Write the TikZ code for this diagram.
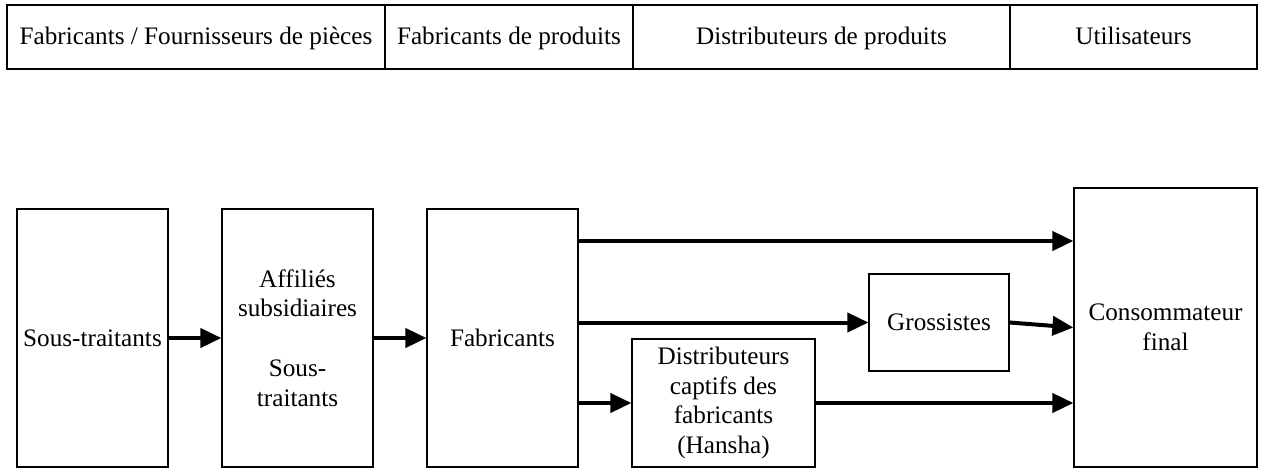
\documentclass[tikz,border=0pt]{standalone}
\usepackage{fontspec}
\setmainfont{Liberation Serif}
\usetikzlibrary{arrows.meta,calc}
\tikzset{
  box/.style={draw=black, line width=1.2pt, fill=white, inner sep=0pt, align=center,
    font=\fontsize{25.2pt}{29.8pt}\selectfont},
  hcell/.style={box, minimum height=64pt, text height=21pt, text depth=5pt},
  arr/.style={line width=4pt, -{Triangle[length=21pt,width=19pt]}}
}
\begin{document}
\begin{tikzpicture}[x=1pt,y=-1pt]
\useasboundingbox (0,0) rectangle (1264,468);
% header
\node[hcell, minimum width=378pt] (h1) at (196,37) {Fabricants / Fournisseurs de pièces};
\node[hcell, minimum width=248pt] (h2) at (509,37) {Fabricants de produits};
\node[hcell, minimum width=377pt] (h3) at (821.5,37) {Distributeurs de produits};
\node[hcell, minimum width=247pt] (h4) at (1133.5,37) {Utilisateurs};
% boxes
\node[box, minimum width=151pt, minimum height=258pt] (st) at (92.5,338) {Sous-traitants};
\node[box, minimum width=151pt, minimum height=258pt] (aff) at (297.5,338) {Affiliés\\subsidiaires\\[29.8pt]Sous-\\traitants};
\node[box, minimum width=151pt, minimum height=258pt] (fab) at (502.5,338) {Fabricants};
\node[box, minimum width=183pt, minimum height=128pt] (capt) at (723.5,403) {Distributeurs\\captifs des\\fabricants\\(Hansha)};
\node[box, minimum width=140pt, minimum height=97pt] (gros) at (939,322.5) {Grossistes};
\node[box, minimum width=183pt, minimum height=279pt] (cons) at (1165.5,327.5) {Consommateur\\final};
% connectors
\draw[arr] (st) -- (aff);
\draw[arr] (aff) -- (fab);
\draw[arr] ([yshift=97pt]fab.east) -- ([yshift=97pt]fab.east -| cons.west);
\draw[arr] (fab.east |- gros.west) -- (gros.west);
\draw[arr] (gros.east) -- (cons.west);
\draw[arr] (fab.east |- capt.west) -- (capt.west);
\draw[arr] (capt.east) -- (capt.east -| cons.west);
\end{tikzpicture}
\end{document}
